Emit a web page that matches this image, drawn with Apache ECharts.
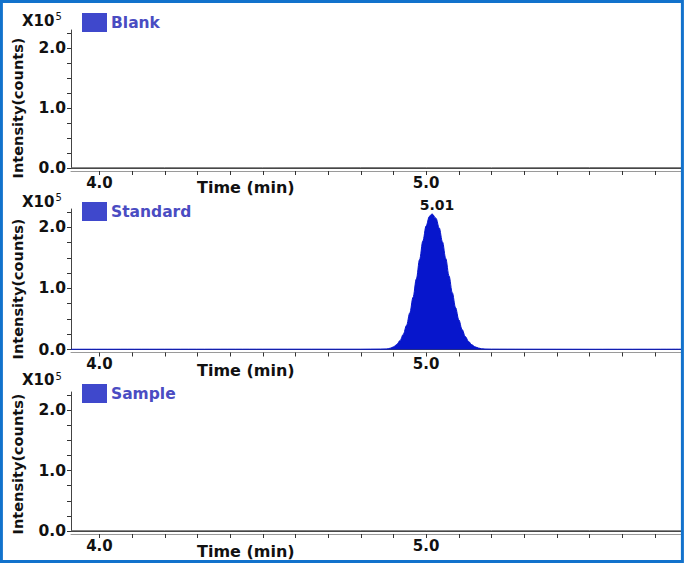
<!DOCTYPE html>
<html>
<head>
<meta charset="utf-8">
<script src="https://cdn.jsdelivr.net/npm/echarts@6/dist/echarts.min.js"></script>
<style>
html,body{margin:0;padding:0;background:#fff;}
#c{width:685px;height:565px;}
</style>
</head>
<body>
<div id="c"></div>
<script>
// ---- data (time in min, intensity in counts x10^5) ----
const panelNames = ['Blank', 'Standard', 'Sample'];
const xTickValues = [4.0, 4.1, 4.2, 4.3, 4.4, 4.5, 4.6, 4.7, 4.8, 4.9, 5.0, 5.1, 5.2, 5.3, 5.4, 5.5, 5.6, 5.7];
const xLabelValues = [4.0, 5.0];
const yTickValues = [0, 0.25, 0.5, 0.75, 1.0, 1.25, 1.5, 1.75, 2.0, 2.25];
const yLabelValues = [0.0, 1.0, 2.0];

const blankTime = [3.913, 4.2, 4.5, 4.8, 5.0, 5.2, 5.5, 5.78];
const blankIntensity = [0.004, 0.005, 0.004, 0.006, 0.005, 0.004, 0.006, 0.005];

const standardTime = [3.913, 4.5, 4.80, 4.86, 4.88, 4.89, 4.90, 4.91, 4.92, 4.93, 4.94, 4.95, 4.96, 4.97, 4.98, 4.99, 5.00, 5.01, 5.018,
  5.03, 5.04, 5.05, 5.06, 5.07, 5.08, 5.09, 5.10, 5.11, 5.12, 5.13, 5.14, 5.15, 5.16, 5.17, 5.18, 5.20, 5.30, 5.50, 5.78];
const standardIntensity = [0.004, 0.005, 0.005, 0.007, 0.010, 0.021, 0.043, 0.081, 0.146, 0.247, 0.396, 0.599, 0.856, 1.155, 1.475, 1.778, 2.025, 2.180, 2.220,
  2.149, 1.990, 1.760, 1.489, 1.204, 0.930, 0.686, 0.485, 0.327, 0.211, 0.130, 0.076, 0.043, 0.024, 0.012, 0.008, 0.006, 0.005, 0.004, 0.005];
const peakLabel = '5.01';
const peakTime = 5.018;
const peakIntensity = 2.220;

const sampleTime = [3.913, 4.2, 4.5, 4.8, 5.0, 5.2, 5.5, 5.78];
const sampleIntensity = [0.005, 0.004, 0.006, 0.005, 0.004, 0.005, 0.006, 0.004];

// ---- layout ----
const FONT = 'DejaVu Sans';
const grids = [
  {left: 71, top: 30, width: 610, height: 138},
  {left: 71, top: 209, width: 610, height: 140.5},
  {left: 71, top: 392, width: 610, height: 139}
];
const legendTops = [13, 202, 384];
const expY = [20.5, 201.5, 380];
const nameY = [108, 289, 464];
const timeY = [187, 370, 551];

const pair = (t, v) => t.map((x, i) => [x, v[i]]);
const seriesData = [pair(blankTime, blankIntensity), pair(standardTime, standardIntensity), pair(sampleTime, sampleIntensity)];

const xAxes = [], yAxes = [], series = [], legends = [], graphics = [];
grids.forEach((g, k) => {
  xAxes.push({
    type: 'value', gridIndex: k, min: 3.913, max: 5.78,
    axisLine: {show: true, onZero: false, lineStyle: {color: '#444', width: 1}},
    axisTick: {show: false}, axisLabel: {show: false}, splitLine: {show: false}
  });
  xAxes.push({
    type: 'value', gridIndex: k, min: 3.913, max: 5.78, offset: 3, position: 'bottom',
    axisLine: {show: true, onZero: false, lineStyle: {color: '#9a9a9a', width: 1}},
    axisTick: {show: true, length: 4, customValues: xTickValues, lineStyle: {color: '#333'}},
    axisLabel: {show: true, customValues: xLabelValues, margin: 4,
      formatter: v => v.toFixed(1), color: '#111', fontFamily: FONT, fontWeight: 'bold', fontSize: 15},
    splitLine: {show: false}
  });
  yAxes.push({
    type: 'value', gridIndex: k, min: 0, max: 2.3,
    axisLine: {show: true, lineStyle: {color: '#444', width: 1}},
    axisTick: {show: true, length: 4, customValues: yTickValues, lineStyle: {color: '#333'}},
    axisLabel: {show: true, customValues: yLabelValues, margin: 5,
      formatter: v => v.toFixed(1), color: '#111', fontFamily: FONT, fontWeight: 'bold', fontSize: 15.5},
    splitLine: {show: false}
  });
  const isStd = k === 1;
  const s = {
    name: panelNames[k], type: 'line', xAxisIndex: 2 * k, yAxisIndex: k,
    data: seriesData[k], showSymbol: false, symbol: 'none',
    smooth: isStd ? 0.35 : false, smoothMonotone: 'x',
    color: isStd ? '#0716cc' : '#555',
    lineStyle: {color: isStd ? '#0716cc' : '#666', width: 1},
    animation: false
  };
  if (isStd) {
    s.areaStyle = {color: '#0716cc', opacity: 1};
    s.markPoint = {
      symbol: 'circle', symbolSize: 0,
      data: [{coord: [peakTime, peakIntensity], value: peakLabel}],
      label: {show: true, position: 'top', distance: 2, offset: [5, 0], formatter: peakLabel,
        color: '#111', fontFamily: FONT, fontWeight: 'bold', fontSize: 14}
    };
  }
  series.push(s);
  legends.push({
    data: [panelNames[k]], left: 82, top: legendTops[k], padding: 0,
    icon: 'rect', itemWidth: 25, itemHeight: 19, itemGap: 0,
    itemStyle: {color: '#3f48cc'}, selectedMode: false,
    textStyle: {color: '#4a4cc2', fontFamily: FONT, fontWeight: 'bold', fontSize: 15.5, padding: [0, 0, 0, -1]}
  });
  graphics.push({
    type: 'text', x: 22, y: expY[k],
    style: {
      text: '{a|X10}{b|5}', verticalAlign: 'middle', textAlign: 'left',
      rich: {
        a: {fontFamily: FONT, fontWeight: 'bold', fontSize: 15, fill: '#111', color: '#111', lineHeight: 18},
        b: {fontFamily: FONT, fontSize: 10, fill: '#111', color: '#111', verticalAlign: 'top', lineHeight: 18, padding: [0, 0, 6, 1]}
      }
    }
  });
  graphics.push({
    type: 'text', x: 18, y: nameY[k], rotation: Math.PI / 2,
    style: {text: 'Intensity(counts)', textAlign: 'center', verticalAlign: 'middle',
      fontFamily: FONT, fontWeight: 'bold', fontSize: 14.5, fill: '#111'}
  });
  graphics.push({
    type: 'text', x: 197, y: timeY[k],
    style: {text: 'Time (min)', textAlign: 'left', verticalAlign: 'middle',
      fontFamily: FONT, fontWeight: 'bold', fontSize: 16, fill: '#111'}
  });
});
graphics.push({
  type: 'rect', z: 100, shape: {x: 1.4, y: 1.4, width: 681, height: 560},
  style: {fill: 'none', stroke: '#1272cc', lineWidth: 3}
});

const chart = echarts.init(document.getElementById('c'), null, {renderer: 'svg'});
chart.setOption({
  backgroundColor: '#fff',
  animation: false,
  grid: grids,
  xAxis: xAxes,
  yAxis: yAxes,
  legend: legends,
  series: series,
  graphic: graphics
});
</script>
</body>
</html>
